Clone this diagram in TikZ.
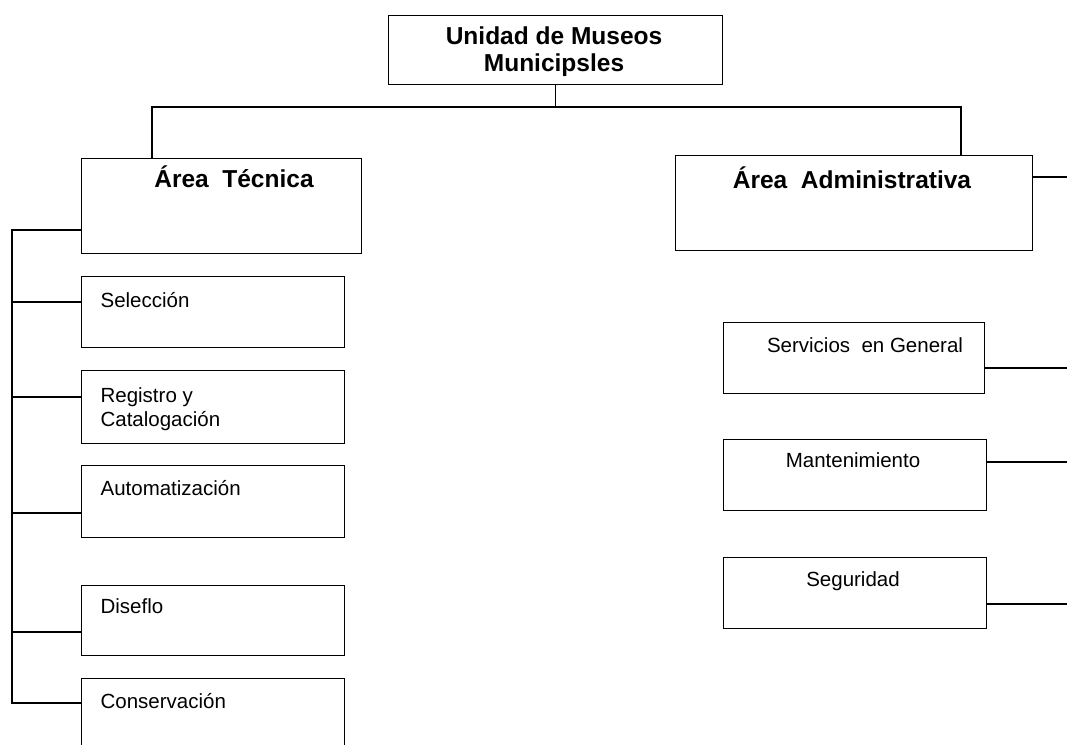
\documentclass[tikz,border=0pt]{standalone}
\usepackage{fontspec}
\setmainfont{Liberation Sans}
\begin{document}
\begin{tikzpicture}[x=1pt,y=-1pt, line width=1.2pt,
  box/.style={draw, rectangle, anchor=north west, inner sep=0pt},
  lbl/.style={anchor=base west, inner sep=0pt, font=\fontsize{20.5}{24}\selectfont, align=left},
  clbl/.style={anchor=base, inner sep=0pt, font=\fontsize{20.5}{24}\selectfont},
  hd/.style={inner sep=0pt, font=\bfseries\fontsize{24.5}{27}\selectfont, align=center}]
\clip (0,0) rectangle (1067,744);
\fill[white] (0,0) rectangle (1067,744);

% boxes
\node[box, minimum width=334pt, minimum height=69pt] (top) at (388,15) {};
\node[box, minimum width=280pt, minimum height=95pt] (tec) at (81,158) {};
\node[box, minimum width=357pt, minimum height=95pt] (adm) at (675,155) {};
\node[box, minimum width=263pt, minimum height=71pt] (sel) at (81,276) {};
\node[box, minimum width=263pt, minimum height=73pt] (reg) at (81,370) {};
\node[box, minimum width=263pt, minimum height=72pt] (aut) at (81,465) {};
\node[box, minimum width=263pt, minimum height=70pt] (dis) at (81,585) {};
\node[box, minimum width=263pt, minimum height=85pt] (con) at (81,678) {};
\node[box, minimum width=261pt, minimum height=71pt] (ser) at (723,322) {};
\node[box, minimum width=263pt, minimum height=71pt] (man) at (723,439) {};
\node[box, minimum width=263pt, minimum height=71pt] (seg) at (723,557) {};

% texts
\node[hd] (ttop) at (554,52) {Unidad de Museos\\Municipsles};
\node[hd, anchor=base] (ttec) at (234,187) {Área\ \ Técnica};
\node[hd, anchor=base] (tadm) at (852,188) {Área\ \ Administrativa};
\node[lbl] (tsel) at (100,307) {Selección};
\node[lbl] (treg) at (100,402) {Registro y};
\node[lbl] (tcat) at (100,426) {Catalogación};
\node[lbl] (taut) at (100,495) {Automatización};
\node[lbl] (tdis) at (100,613) {Diseflo};
\node[lbl] (tcon) at (100,708) {Conservación};
\node[clbl] (tser) at (865,352) {Servicios\ \ en General};
\node[clbl] (tman) at (853,467) {Mantenimiento};
\node[clbl] (tseg) at (853,586) {Seguridad};

% junction coordinates
\coordinate (hl) at (152,107);
\coordinate (hr) at (961,107);
\coordinate (sptop) at (12,230);
\coordinate (spbot) at (12,703);
\coordinate (ysel) at (12,302);
\coordinate (yreg) at (12,397);
\coordinate (yaut) at (12,513);
\coordinate (ydis) at (12,632);
\coordinate (eadm) at (1067,177);
\coordinate (eser) at (1067,368);
\coordinate (eman) at (1067,462);
\coordinate (eseg) at (1067,604);

% connectors
\draw (top.south) -- (top.south |- hl);
\draw (tec.north -| hl) -- (hl) -- (hr) -- (adm.north -| hr);
\draw (tec.west |- sptop) -- (sptop) -- (spbot) -- (con.west |- spbot);
\draw (ysel) -- (sel.west |- ysel);
\draw (yreg) -- (reg.west |- yreg);
\draw (yaut) -- (aut.west |- yaut);
\draw (ydis) -- (dis.west |- ydis);
\draw (adm.east |- eadm) -- (eadm);
\draw (ser.east |- eser) -- (eser);
\draw (man.east |- eman) -- (eman);
\draw (seg.east |- eseg) -- (eseg);
\end{tikzpicture}
\end{document}
